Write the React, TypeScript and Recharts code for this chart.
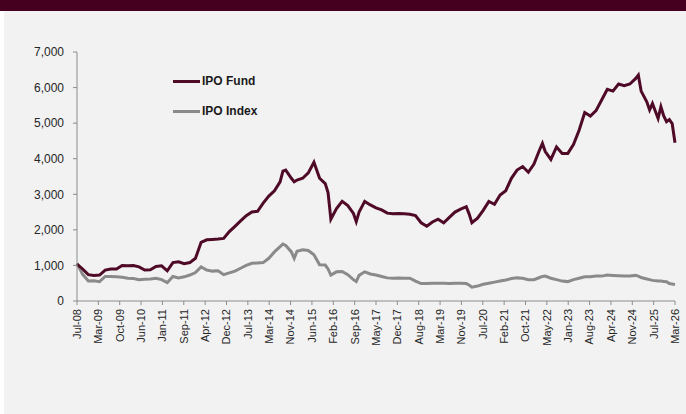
import { LineChart, Line, XAxis, YAxis } from 'recharts';

// Month offsets from Jul-08 (0) to Mar-26 (212)
const MONTHS = [
  0, 2, 4, 6, 8, 10, 12, 14, 16, 18, 20, 22, 24, 26, 28, 30, 32, 34, 36, 38, 40, 42, 44, 46, 48, 50,
  52, 54, 56, 58, 60, 62, 64, 66, 68, 70, 72, 73, 74, 76, 77, 78, 80, 82, 84, 86, 88, 89, 90, 92, 94,
  96, 98, 99, 100, 102, 104, 106, 108, 110, 112, 114, 116, 118, 120, 122, 124, 126, 128, 130, 132,
  134, 136, 138, 139, 140, 142, 144, 146, 148, 150, 152, 154, 156, 158, 160, 162, 164, 165, 166, 168,
  170, 172, 174, 176, 178, 180, 182, 184, 186, 188, 190, 192, 194, 196, 198, 199, 200, 202, 203, 204,
  206, 207, 208, 209, 210, 211, 212,
];

const IPO_FUND = [
  1040, 900, 740, 720, 730, 870, 900, 900, 1000, 990, 1000, 960, 870, 880, 970, 990, 850, 1080, 1100,
  1050, 1080, 1200, 1650, 1720, 1730, 1740, 1760, 1950, 2100, 2250, 2400, 2500, 2520, 2750, 2950, 3100,
  3350, 3650, 3680, 3450, 3350, 3400, 3450, 3600, 3900, 3450, 3300, 3050, 2300, 2600, 2800, 2680, 2460,
  2230, 2500, 2800, 2700, 2620, 2560, 2470, 2450, 2460, 2450, 2440, 2400, 2200, 2100, 2220, 2300, 2200,
  2350, 2500, 2580, 2650, 2450, 2200, 2330, 2550, 2800, 2720, 2980, 3100, 3450, 3680, 3780, 3620, 3850,
  4250, 4430, 4200, 3980, 4330, 4150, 4150, 4400, 4800, 5300, 5200, 5350, 5650, 5950, 5900, 6100, 6050,
  6100, 6250, 6350, 5900, 5600, 5370, 5550, 5130, 5460, 5200, 5040, 5100, 4990, 4450,
];

const IPO_INDEX = [
  1060, 750, 560, 570, 545, 690, 690, 680, 670, 640, 630, 600, 610, 620, 640, 600, 515, 690, 650, 680,
  730, 800, 960, 870, 840, 850, 740, 790, 840, 920, 1000, 1060, 1070, 1080, 1200, 1380, 1530, 1600, 1560,
  1380, 1200, 1400, 1440, 1420, 1300, 1020, 1010, 900, 730, 820, 830, 740, 600, 545, 720, 820, 760, 730,
  690, 650, 640, 650, 640, 640, 560, 490, 490, 500, 500, 500, 490, 500, 500, 490, 450, 390, 420, 470,
  500, 530, 560, 590, 630, 650, 640, 600, 600, 660, 690, 700, 640, 600, 560, 545, 600, 640, 680, 680,
  700, 700, 730, 720, 710, 700, 700, 720, 700, 660, 620, 600, 580, 560, 560, 550, 540, 490, 480, 460,
];

const TICK_LABELS = [
  'Jul-08', 'Mar-09', 'Oct-09', 'Jun-10', 'Jan-11', 'Sep-11', 'Apr-12', 'Dec-12', 'Jul-13', 'Mar-14',
  'Nov-14', 'Jun-15', 'Feb-16', 'Sep-16', 'May-17', 'Dec-17', 'Aug-18', 'Mar-19', 'Nov-19', 'Jul-20',
  'Feb-21', 'Oct-21', 'May-22', 'Jan-23', 'Aug-23', 'Apr-24', 'Nov-24', 'Jul-25', 'Mar-26',
];

const Y_TICKS = [0, 1000, 2000, 3000, 4000, 5000, 6000, 7000];

const LAST_MONTH = 212;
const X_TICKS = TICK_LABELS.map((_, i) => (i * LAST_MONTH) / (TICK_LABELS.length - 1));

const data = MONTHS.map((m, i) => ({ m, fund: IPO_FUND[i], index: IPO_INDEX[i] }));

const FUND_COLOR = '#4f0a27';
const INDEX_COLOR = '#8a8a8a';
const AXIS_COLOR = '#8c8c8c';
const FONT = "'Liberation Sans', Arial, sans-serif";

function XTick({ x, y, payload }: { x?: number; y?: number; payload?: { value: number } }) {
  const i = X_TICKS.indexOf(payload!.value);
  return (
    <g transform={`translate(${x},${(y ?? 0) + 4})`}>
      <text transform="rotate(-90)" textAnchor="end" dy="0.35em" fontSize={11} fill="#262626" fontFamily={FONT}>
        {TICK_LABELS[i]}
      </text>
    </g>
  );
}

// legend sits inside the plot, so it's drawn as plain html on top
function LegendBox() {
  const rows = [
    { label: 'IPO Fund', color: FUND_COLOR },
    { label: 'IPO Index', color: INDEX_COLOR },
  ];
  return (
    <div style={{ position: 'absolute', left: 173, top: 66, fontFamily: FONT }}>
      {rows.map((r) => (
        <div key={r.label} style={{ display: 'flex', alignItems: 'center', height: 30 }}>
          <div style={{ width: 27, height: 3, background: r.color, marginRight: 2 }} />
          <span style={{ fontSize: 12, fontWeight: 700, color: '#1a1a1a' }}>{r.label}</span>
        </div>
      ))}
    </div>
  );
}

export default function App() {
  return (
    <div style={{ position: 'fixed', left: 0, top: 0, width: 686, height: 414, background: '#ffffff' }}>
      <div style={{ position: 'absolute', left: 0, top: 0, width: 686, height: 11, background: '#45001f' }} />
      <div style={{ position: 'absolute', left: 4, top: 11, width: 682, height: 403, background: '#f2f2f2' }} />
      <div style={{ position: 'absolute', left: 0, top: 0 }}>
        <LineChart width={686} height={414} data={data} margin={{ top: 52, right: 11, bottom: 0, left: 0 }}>
          <XAxis
            dataKey="m"
            type="number"
            domain={[0, LAST_MONTH]}
            ticks={X_TICKS}
            interval={0}
            height={113}
            tickSize={4}
            tickMargin={0}
            stroke={AXIS_COLOR}
            tick={<XTick />}
          />
          <YAxis
            domain={[0, 7000]}
            ticks={Y_TICKS}
            width={77}
            tickSize={4}
            tickMargin={9}
            stroke={AXIS_COLOR}
            tick={{ fontSize: 12, fill: '#262626', fontFamily: FONT }}
            tickFormatter={(v: number) => v.toLocaleString('en-US')}
          />
          <Line
            dataKey="index"
            name="IPO Index"
            stroke={INDEX_COLOR}
            strokeWidth={3}
            dot={false}
            isAnimationActive={false}
          />
          <Line
            dataKey="fund"
            name="IPO Fund"
            stroke={FUND_COLOR}
            strokeWidth={3}
            dot={false}
            isAnimationActive={false}
          />
        </LineChart>
      </div>
      <LegendBox />
    </div>
  );
}
